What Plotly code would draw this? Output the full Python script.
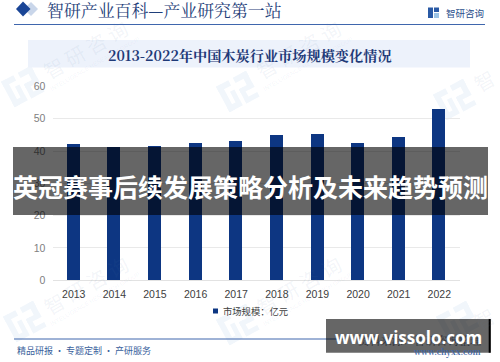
import math
import plotly.graph_objects as go

years = ["2013","2014","2015","2016","2017","2018","2019","2020","2021","2022"]
market_size = [41.9,41.2,41.5,42.4,43.0,44.7,45.0,42.5,44.3,53.0]
y_ticks = [0,10,20,30,40,50,60]
series_name = "市场规模：亿元"
page_title = "智研产业百科—产业研究第一站"
chart_title = "2013-2022年中国木炭行业市场规模变化情况"
overlay_title = "英冠赛事后续发展策略分析及未来趋势预测"
footer_left = "精品研报 · 专题定制 · 产研服务"
footer_source = "资料来源：智研咨询整理"
footer_url = "www.chyxx.com"
overlay_url = "www.vissolo.com"

W, H = 500, 362
NAVY = "#0d3682"
SERIF = "Noto Serif CJK SC, Noto Sans CJK SC, DejaVu Serif"
SANS = "Noto Sans CJK SC, Liberation Sans, sans-serif"
def X(p): return p / W
def Y(p): return 1 - p / H

fig = go.Figure()
fig.add_trace(go.Bar(x=years, y=market_size, marker=dict(color=NAVY, line_width=0),
                     width=0.32, name=series_name, showlegend=False))

shapes, notes = [], []
def rect(x0, y0, x1, y1, color, layer="below"):
    shapes.append(dict(type="rect", xref="paper", yref="paper", x0=X(x0), x1=X(x1),
                       y0=Y(y0), y1=Y(y1), fillcolor=color, line_width=0, layer=layer))
def poly(points, color):
    path = "M" + " L".join(f"{X(a):.5f},{Y(b):.5f}" for a, b in points) + " Z"
    shapes.append(dict(type="path", xref="paper", yref="paper", path=path,
                       fillcolor=color, line_width=0, layer="below"))
def text(x, y, s, size, color, anchor="left", font=SANS, angle=0, weight=None):
    f = dict(size=size, color=color, family=font)
    if weight: f["weight"] = weight
    notes.append(dict(x=X(x), y=Y(y), xref="paper", yref="paper", text=s, showarrow=False,
                      xanchor=anchor, yanchor="middle", textangle=angle, font=f))
def wm_logo(cx, cy, color="#f1f6fb"):
    a = math.radians(-28)
    def rot(u, v):
        return (cx + u*math.cos(a) - v*math.sin(a), cy + u*math.sin(a) + v*math.cos(a))
    bars = [(-17,-15,-3,-9), (-17,-15,-11,14), (-17,8,-2,14), (-7,-4,-2,9),
            (2,-15,17,-9), (11,-15,17,3), (2,-2,17,3), (2,-2,7,14), (2,9,17,14)]
    for u0, v0, u1, v1 in bars:
        poly([rot(u0,v0), rot(u1,v0), rot(u1,v1), rot(u0,v1)], color)

# watermarks
for lx, ly in [(23,87),(238,92),(455,100),(25,322),(238,325),(458,322)]:
    wm_logo(lx, ly)
WM = "rgba(90,120,165,0.08)"
for wx, wy in [(85,50),(298,50),(85,285),(298,285)]:
    text(wx, wy, "智 研 咨 询", 20, WM, "center", SANS, -30)
    text(wx+10, wy+14, "INTELLIGENCE RESEARCH GROUP", 6, WM, "center", "Liberation Sans", -30)
for wx, wy in [(484,80),(484,318)]:
    text(wx, wy, "智", 20, WM, "center", SANS, -30)

# header
poly([(24,9),(31,2),(38,9),(31,16)], "#c9d6ea")
poly([(16,9),(23,1.5),(30.5,9),(23,16.5)], "#1a4596")
text(44.5, 10, page_title, 16.9, "#1f3f7a", "left", SERIF)
shapes.append(dict(type="line", xref="paper", yref="paper", x0=X(14), x1=X(485), y0=Y(24.5), y1=Y(24.5),
                   line=dict(color="#3f66ad", width=1), layer="below"))
rect(428, 7.5, 433, 18, "#2a5aa5")
rect(434, 7.5, 439, 12, "#2a5aa5")
rect(434, 13, 439, 18, "#9cc4e6")
text(443.5, 13, "智研咨询", 9.5, "#2b4f8c")

# title band
rect(28, 40, 470, 67.5, "#edf2fb")
text(249.5, 55, chart_title, 14.2, "#1f3a78", "center", SERIF, weight=700)

# legend
rect(213, 308.5, 218, 313.5, NAVY)
text(221, 311, series_name, 9.3, "#404040")

# footer
shapes.append(dict(type="line", xref="paper", yref="paper", x0=X(14), x1=X(345), y0=Y(339), y1=Y(339),
                   line=dict(color="#3f66ad", width=1), layer="below"))
text(15, 350.7, footer_left, 9, "#3a5f9c")
text(483, 352, footer_url, 8, "#3f66a6", "right", SERIF, weight=700)

# overlays
rect(13, 147, 488, 215, "rgba(0,0,0,0.6)", "above")
rect(326, 319, 490.7, 352.7, "rgba(0,0,0,0.6)", "above")
rect(488.7, 319, 490.7, 352.7, "#000000", "above")
text(483, 340, footer_source, 11.2, "#2b2f38", "right", SERIF)
text(250, 186.3, overlay_title, 25, "#ffffff", "center", "Noto Sans CJK SC", weight=700)
text(408, 337, overlay_url, 17, "#ffffff", "center", "Open Sans", weight=700)

fig.update_layout(
    width=W, height=H, autosize=False, margin=dict(l=0, r=0, t=0, b=0, autoexpand=False),
    paper_bgcolor="#ffffff", plot_bgcolor="rgba(0,0,0,0)", bargap=0,
    shapes=shapes, annotations=notes, showlegend=False,
    xaxis=dict(domain=[X(53.4), X(459.6)], type="category", categoryorder="array", categoryarray=years,
               automargin=False, showline=True, linecolor="#e2e2e2", linewidth=1, ticks="", showgrid=False,
               ticklabelstandoff=4,
               tickfont=dict(size=10.5, color="#404040", family="Liberation Sans")),
    yaxis=dict(domain=[Y(280.3), Y(86.4)], range=[0,60], tickvals=y_ticks, ticks="",
               automargin=False, showline=False, showgrid=True, gridcolor="#e9e9e9", gridwidth=1, zeroline=False,
               ticklabelstandoff=7,
               tickfont=dict(size=10.5, color="#808080", family="Liberation Sans")),
)
fig.write_html("out.html", config=dict(displayModeBar=False, responsive=False),
               default_width="500px", default_height="362px",
               post_script="document.documentElement.style.margin='0';document.body.style.margin='0';document.body.style.overflow='hidden';")
